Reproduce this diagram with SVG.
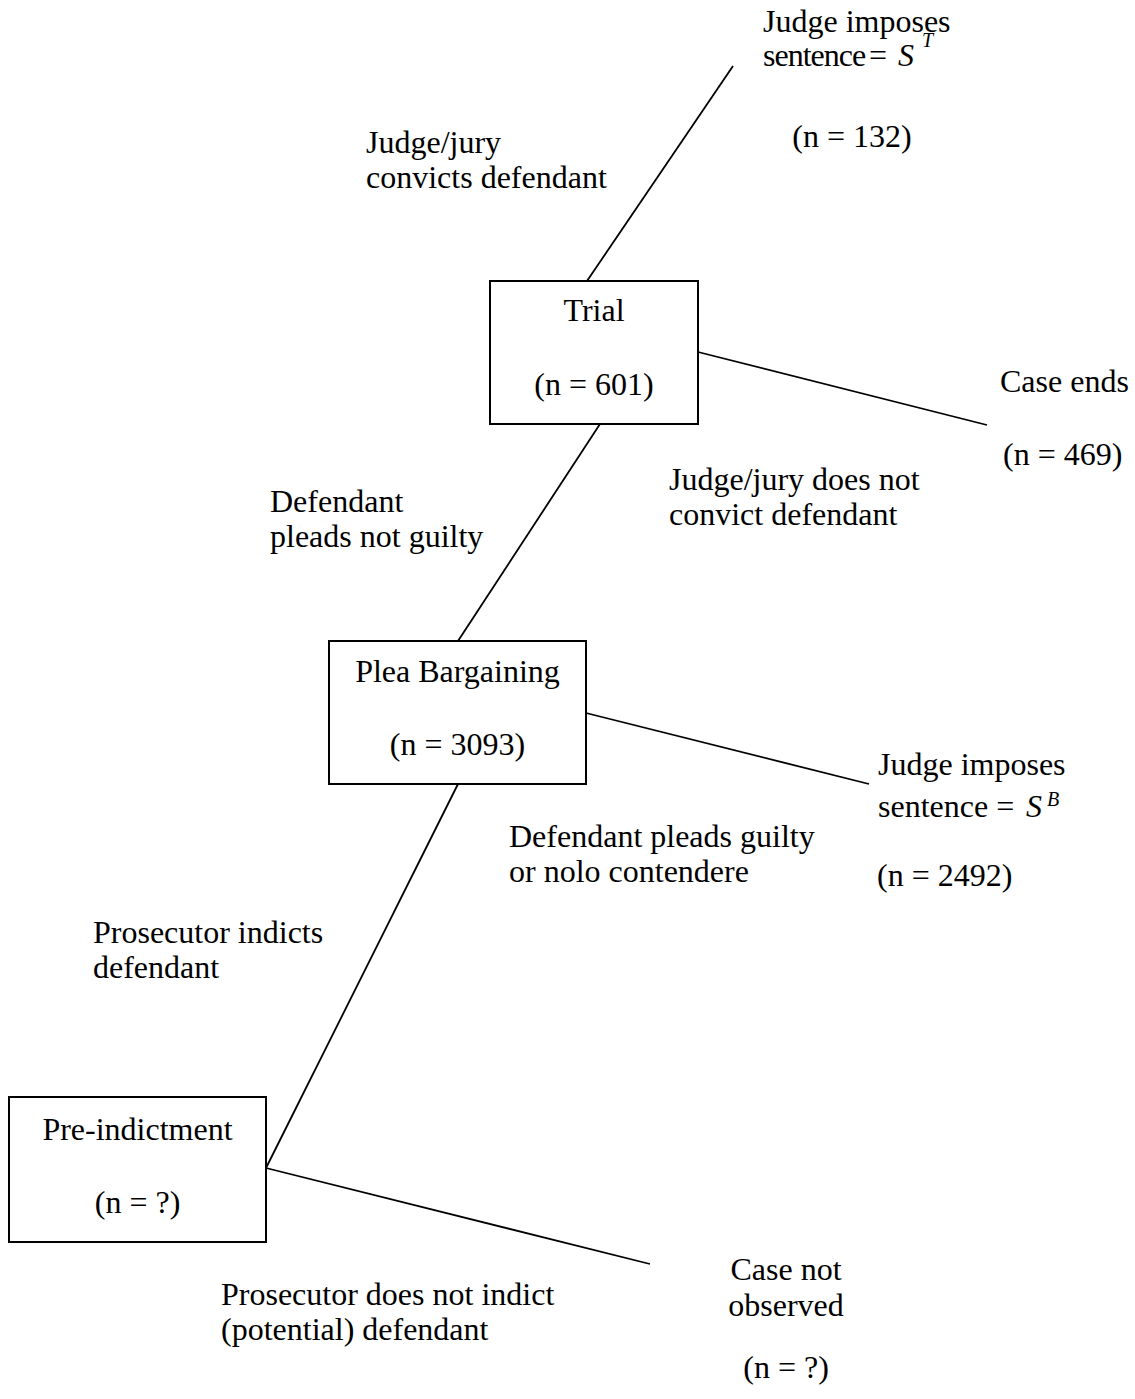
<svg xmlns="http://www.w3.org/2000/svg" width="1135" height="1399" viewBox="0 0 1135 1399">
<style>
text{font-family:"Liberation Serif","Times New Roman",serif;font-size:32px;fill:#000}
.c{text-anchor:middle}
.box{fill:#fff;stroke:#000;stroke-width:2}
.ln{stroke:#000;stroke-width:1.8;fill:none}
.it{font-style:italic}
.sup{font-size:20px;font-style:italic}
.tight{letter-spacing:-1px}
</style>
<rect width="1135" height="1399" fill="#fff"/>
<g id="connectors">
<line class="ln" x1="587" y1="281" x2="733" y2="66"/>
<line class="ln" x1="698" y1="352" x2="987" y2="425"/>
<line class="ln" x1="600" y1="424" x2="458" y2="641"/>
<line class="ln" x1="586" y1="713" x2="869" y2="784"/>
<line class="ln" x1="458" y1="784" x2="266" y2="1168"/>
<line class="ln" x1="266" y1="1168" x2="650" y2="1264"/>
</g>
<g id="trial">
<rect class="box" x="490" y="281" width="208" height="143"/>
<text class="c" x="594" y="321">Trial</text>
<text class="c" x="594" y="395">(n = 601)</text>
</g>
<g id="plea">
<rect class="box" x="329" y="641" width="257" height="143"/>
<text class="c" x="457.5" y="682">Plea Bargaining</text>
<text class="c" x="457.5" y="755">(n = 3093)</text>
</g>
<g id="preindictment">
<rect class="box" x="9" y="1097" width="257" height="145"/>
<text class="c" x="137.5" y="1140">Pre-indictment</text>
<text class="c" x="137.5" y="1213">(n = ?)</text>
</g>
<g id="sentence-trial">
<text x="763" y="32">Judge imposes</text>
<text x="763" y="66"><tspan class="tight">sentence</tspan><tspan x="869">=</tspan><tspan class="it" x="898">S</tspan><tspan class="sup" x="922" dy="-19">T</tspan></text>
<text class="c" x="852" y="147">(n = 132)</text>
</g>
<g id="case-ends">
<text x="1000" y="392">Case ends</text>
<text x="1003" y="465">(n = 469)</text>
</g>
<g id="sentence-plea">
<text x="878" y="775">Judge imposes</text>
<text x="878" y="817">sentence = <tspan class="it" x="1026">S</tspan><tspan class="sup" x="1047" dy="-11">B</tspan></text>
<text x="877" y="886">(n = 2492)</text>
</g>
<g id="case-not-observed">
<text class="c" x="786" y="1280">Case not</text>
<text class="c" x="786" y="1316">observed</text>
<text class="c" x="786" y="1378">(n = ?)</text>
</g>
<g id="edge-labels">
<text x="366" y="153">Judge/jury</text>
<text x="366" y="188">convicts defendant</text>
<text x="669" y="490">Judge/jury does not</text>
<text x="669" y="525">convict defendant</text>
<text x="270" y="512">Defendant</text>
<text x="270" y="547">pleads not guilty</text>
<text x="509" y="847">Defendant pleads guilty</text>
<text x="509" y="882">or nolo contendere</text>
<text x="93" y="943">Prosecutor indicts</text>
<text x="93" y="978">defendant</text>
<text x="221" y="1305">Prosecutor does not indict</text>
<text x="221" y="1340">(potential) defendant</text>
</g>
</svg>
